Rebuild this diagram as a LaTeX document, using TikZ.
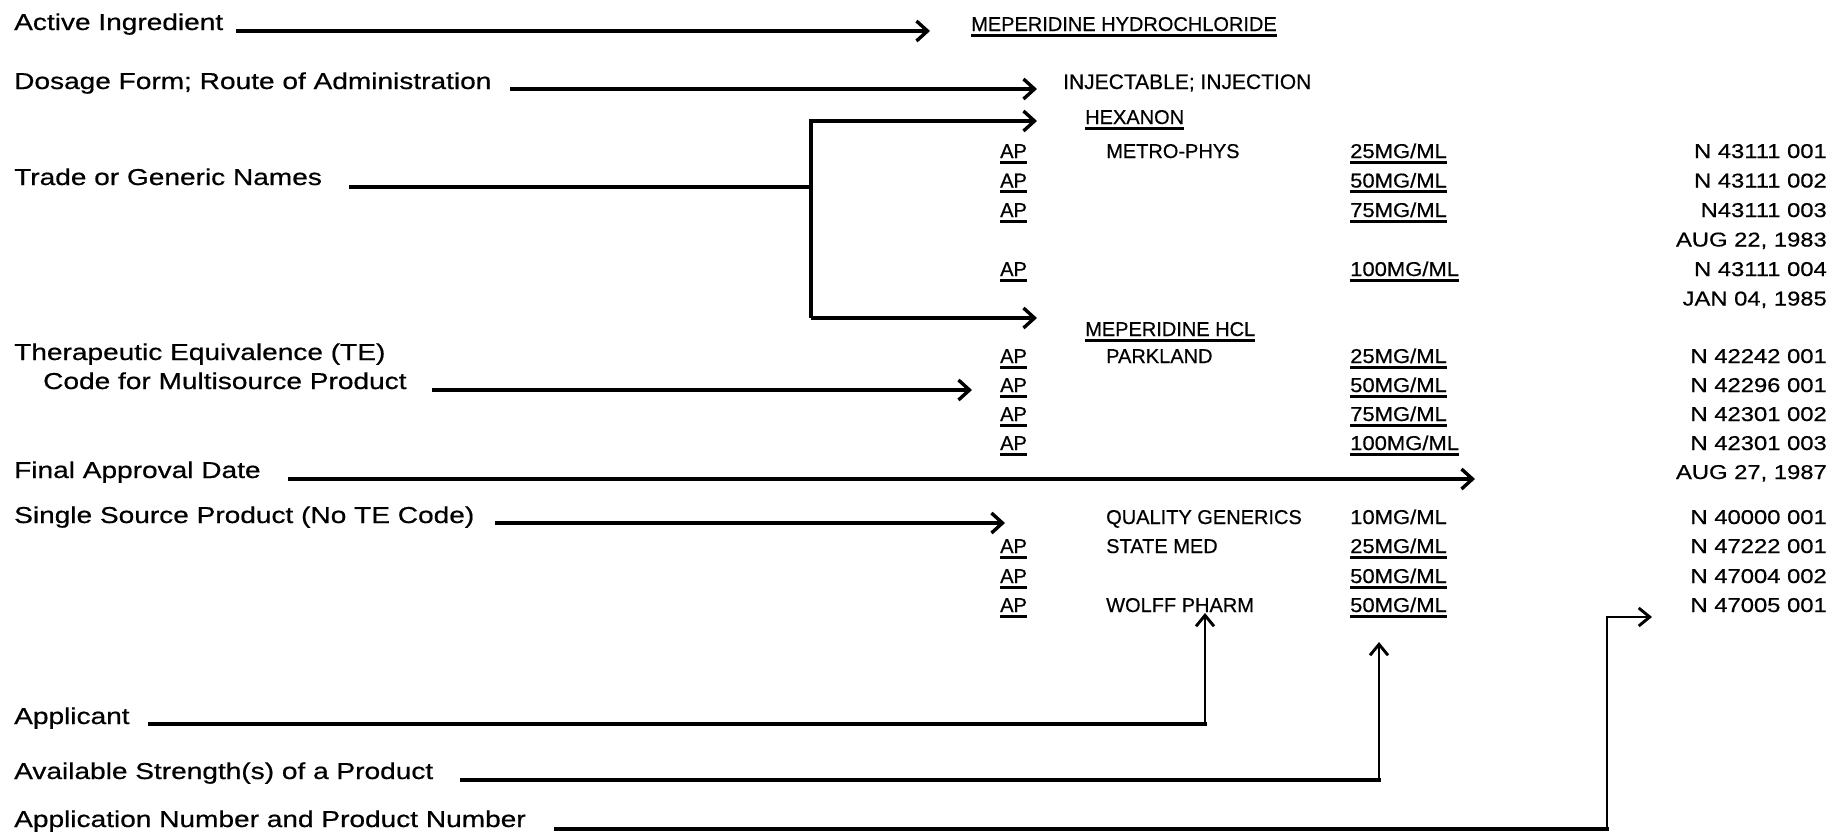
\documentclass[tikz,border=0pt]{standalone}
\usepackage{fontspec}
\setmainfont{Liberation Sans}
\newfontfamily\labfont[FakeStretch=1.22,FakeBold=0.6]{Liberation Sans}
\newfontfamily\rtfont[FakeBold=0.5]{Liberation Sans}
\newfontfamily\numfont[FakeStretch=1.19,FakeBold=0.5]{Liberation Sans}
\newfontfamily\strfont[FakeStretch=1.1,FakeBold=0.5]{Liberation Sans}
\usetikzlibrary{arrows.meta}
\newsavebox\ulbox
\newcommand\myul[1]{\sbox\ulbox{#1}\rlap{\rule[-5.5pt]{\wd\ulbox}{3pt}}\usebox\ulbox}
\tikzset{
  lab/.style={anchor=base west, inner sep=0pt, font=\labfont\fontsize{23}{28}\selectfont},
  rt/.style={anchor=base west, inner sep=0pt, font=\rtfont\fontsize{20}{24}\selectfont},
  strg/.style={anchor=base west, inner sep=0pt, font=\strfont\fontsize{20}{24}\selectfont},
  num/.style={anchor=base east, inner sep=0pt, font=\numfont\fontsize{20}{24}\selectfont},
  conn/.style={line width=3.4pt, line join=miter, -{Straight Barb[length=11pt,width=20pt]}},
  connv/.style={line width=2.9pt, line join=miter, -{Straight Barb[length=11pt,width=18pt]}},
  plainln/.style={line width=3.4pt, line cap=rect},
}
\begin{document}
\begin{tikzpicture}[x=1pt,y=-1pt]
\useasboundingbox[fill=white] (0,0) rectangle (1835,833);

% ---------- left labels ----------
\node[lab] (l1) at (14,30) {Active Ingredient};
\node[lab] (l2) at (14,89) {Dosage Form; Route of Administration};
\node[lab] (l3) at (14,185) {Trade or Generic Names};
\node[lab] (l4) at (14,360) {Therapeutic Equivalence (TE)};
\node[lab] (l5) at (43,389) {Code for Multisource Product};
\node[lab] (l6) at (14,478) {Final Approval Date};
\node[lab] (l7) at (14,523) {Single Source Product (No TE Code)};
\node[lab] (l8) at (14,724) {Applicant};
\node[lab] (l9) at (14,779) {Available Strength(s) of a Product};
\node[lab] (l10) at (14,827) {Application Number and Product Number};

% ---------- right side ----------
\node[rt] (ai) at (971,31) {\myul{MEPERIDINE HYDROCHLORIDE}};
\node[rt, font=\rtfont\fontsize{21}{24}\selectfont] (df) at (1063,89) {INJECTABLE; INJECTION};
\node[rt] (hx) at (1085,124) {\myul{HEXANON}};

\node[rt] (ap1) at (1000,158) {\myul{AP}};
\node[rt] (nm1) at (1106,158) {METRO-PHYS};
\node[strg] (s1) at (1350,158) {\myul{25MG/ML}};
\node[num] (n1) at (1827,158) {N 43111 001};

\node[rt] (ap2) at (1000,187.5) {\myul{AP}};
\node[strg] (s2) at (1350,187.5) {\myul{50MG/ML}};
\node[num] (n2) at (1827,187.5) {N 43111 002};

\node[rt] (ap3) at (1000,217) {\myul{AP}};
\node[strg] (s3) at (1350,217) {\myul{75MG/ML}};
\node[num] (n3) at (1827,217) {N43111 003};
\node[num] (d1) at (1827,246.5) {AUG 22, 1983};

\node[rt] (ap4) at (1000,276) {\myul{AP}};
\node[strg] (s4) at (1350,276) {\myul{100MG/ML}};
\node[num] (n4) at (1827,276) {N 43111 004};
\node[num] (d2) at (1827,305.5) {JAN 04, 1985};

\node[rt] (hcl) at (1085,336) {\myul{MEPERIDINE HCL}};

\node[rt] (ap5) at (1000,363) {\myul{AP}};
\node[rt] (nm5) at (1106,363) {PARKLAND};
\node[strg] (s5) at (1350,363) {\myul{25MG/ML}};
\node[num] (n5) at (1827,363) {N 42242 001};

\node[rt] (ap6) at (1000,392) {\myul{AP}};
\node[strg] (s6) at (1350,392) {\myul{50MG/ML}};
\node[num] (n6) at (1827,392) {N 42296 001};

\node[rt] (ap7) at (1000,421) {\myul{AP}};
\node[strg] (s7) at (1350,421) {\myul{75MG/ML}};
\node[num] (n7) at (1827,421) {N 42301 002};

\node[rt] (ap8) at (1000,450) {\myul{AP}};
\node[strg] (s8) at (1350,450) {\myul{100MG/ML}};
\node[num] (n8) at (1827,450) {N 42301 003};
\node[num] (d3) at (1827,479) {AUG 27, 1987};

\node[rt] (nm9) at (1106,524) {QUALITY GENERICS};
\node[strg] (s9) at (1350,524) {10MG/ML};
\node[num] (n9) at (1827,524) {N 40000 001};

\node[rt] (ap10) at (1000,553) {\myul{AP}};
\node[rt] (nm10) at (1106,553) {STATE MED};
\node[strg] (s10) at (1350,553) {\myul{25MG/ML}};
\node[num] (n10) at (1827,553) {N 47222 001};

\node[rt] (ap11) at (1000,583) {\myul{AP}};
\node[strg] (s11) at (1350,583) {\myul{50MG/ML}};
\node[num] (n11) at (1827,583) {N 47004 002};

\node[rt] (ap12) at (1000,612) {\myul{AP}};
\node[rt] (nm12) at (1106,612) {WOLFF PHARM};
\node[strg] (s12) at (1350,612) {\myul{50MG/ML}};
\node[num] (n12) at (1827,612) {N 47005 001};

% ---------- connector coordinates ----------
\coordinate (c1s) at (236,31);   \coordinate (c1e) at (930,31);
\coordinate (c2s) at (510,89);   \coordinate (c2e) at (1037,89);
\coordinate (c3s) at (351,187);  \coordinate (c3j) at (811,187);
\coordinate (c3b) at (811,318);
\coordinate (c3he) at (1037,121); \coordinate (c3me) at (1037,318);
\coordinate (c5s) at (432,390);  \coordinate (c5e) at (972,390);
\coordinate (c6s) at (288,479);  \coordinate (c6e) at (1475,479);
\coordinate (c7s) at (495,523);  \coordinate (c7e) at (1005,523);
\coordinate (c8s) at (150,724);  \coordinate (c8c) at (1205,724);
\coordinate (c8e) at (1205,613);
\coordinate (c9s) at (462,780);  \coordinate (c9c) at (1379,780);
\coordinate (c9e) at (1379,642);
\coordinate (c10s) at (556,829); \coordinate (c10b) at (1607,829);
\coordinate (c10c) at (1607,617); \coordinate (c10e) at (1652,617);

% ---------- connectors ----------
\draw[conn] (c1s) -- (c1e);
\draw[conn] (c2s) -- (c2e);
\draw[plainln] (c3s) -- (c3j);
\draw[conn] (c3b) |- (c3he);
\draw[conn] (c3b) -- (c3me);
\draw[conn] (c5s) -- (c5e);
\draw[conn] (c6s) -- (c6e);
\draw[conn] (c7s) -- (c7e);
\draw[plainln] (c8s) -- (c8c);
\draw[connv] (c8c) -- (c8e);
\draw[plainln] (c9s) -- (c9c);
\draw[connv] (c9c) -- (c9e);
\draw[plainln] (c10s) -- (c10b);
\draw[connv] (c10b) -- (c10c) -- (c10e);
\end{tikzpicture}
\end{document}
